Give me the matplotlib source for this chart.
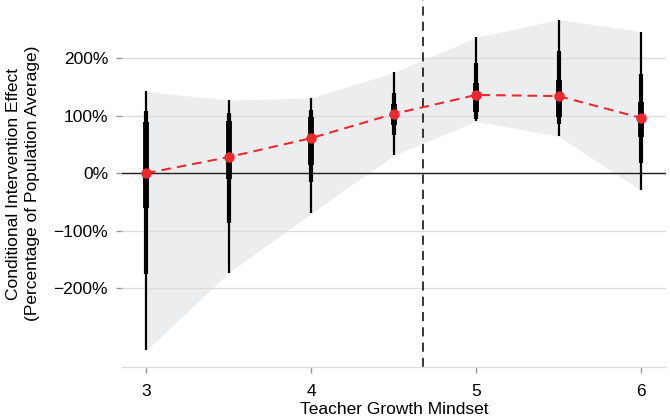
import matplotlib
matplotlib.use("Agg")
from matplotlib import pyplot as plt
from matplotlib.ticker import FuncFormatter

# values (percent of population average)
mindset = [3, 3.5, 4, 4.5, 5, 5.5, 6]
estimate = [0, 28, 61, 103, 136, 134, 96]
outer_lo = [-308, -173, -70, 31, 90, 64, -30]
outer_hi = [142, 127, 131, 175, 236, 267, 246]
mid_lo = [-176, -87, -15, 66, 94, 86, 17]
mid_hi = [108, 105, 110, 139, 192, 213, 173]
inner_lo = [-60, -10, 14, 83, 107, 98, 63]
inner_hi = [89, 91, 98, 121, 157, 162, 124]
cutoff = 4.68

y_ticks = [-200, -100, 0, 100, 200]
x_ticks = [3, 4, 5, 6]

plt.rcParams['font.family'] = ['Liberation Sans', 'DejaVu Sans']
plt.rcParams['font.size'] = 12

GRID = '#dcdcdc'
RED = '#f0282d'

fig = plt.figure(figsize=(6.7, 4.2), dpi=100)
ax = fig.add_axes([0.182, 0.126, 0.812, 0.874])

ax.fill_between(mindset, outer_lo, outer_hi, color='#ecedee', lw=0, zorder=1)

ax.vlines(mindset, outer_lo, outer_hi, color='black', lw=1.6, zorder=3)
ax.vlines(mindset, mid_lo, mid_hi, color='black', lw=3.0, zorder=3)
ax.vlines(mindset, inner_lo, inner_hi, color='black', lw=4.2, zorder=3)

ax.axhline(0, color='#222222', lw=1.0, zorder=2)
ax.axvline(cutoff, color='black', lw=1.1, ls=(0, (6, 4)), zorder=2)

ax.plot(mindset, estimate, color=RED, lw=1.5, ls=(0, (4.5, 3)),
        marker='o', ms=6.5, mec=RED, mfc=RED, zorder=4)

ax.set_xlim(2.853, 6.15)
ax.set_ylim(-337, 301)
ax.set_xticks(x_ticks)
ax.set_yticks(y_ticks)
ax.yaxis.set_major_formatter(
    FuncFormatter(lambda v, _: f"{int(v)}%".replace('-', '\u2212')))

ax.yaxis.grid(True, color=GRID, lw=1.0)
ax.set_axisbelow('line')
for s in ['top', 'right', 'left']:
    ax.spines[s].set_visible(False)
ax.spines['bottom'].set_color(GRID)
ax.spines['bottom'].set_linewidth(1.0)

ax.tick_params(axis='y', length=4, width=1, color='#999999', pad=6,
               labelsize=12.5)
ax.tick_params(axis='x', length=4, width=1, color='#999999', pad=8,
               labelsize=12.5)
for t in ax.yaxis.get_major_ticks():
    if t.get_loc() == 0:
        t.tick1line.set_color('#222222')

ax.set_xlabel('Teacher Growth Mindset', fontsize=12.5, labelpad=2)
ax.set_ylabel('Conditional Intervention Effect\n(Percentage of Population Average)',
              fontsize=12.5, labelpad=10, linespacing=1.3)

fig.savefig('out.png', dpi=100)
